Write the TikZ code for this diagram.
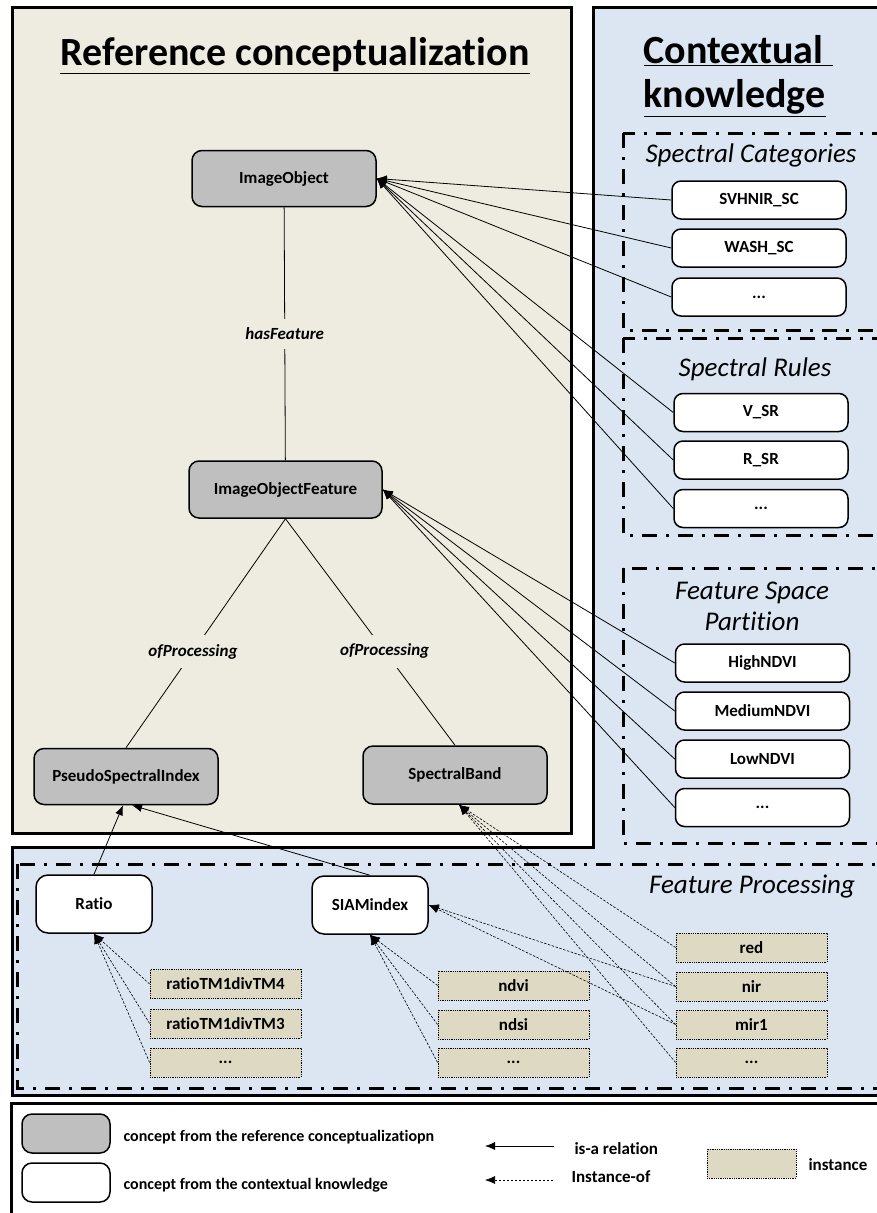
\documentclass[tikz,border=0pt]{standalone}
\usepackage{fontspec}
\setmainfont{Carlito}[Ligatures=NoCommon]
\usetikzlibrary{arrows.meta}

\definecolor{refbg}{HTML}{EEECE1}
\definecolor{ctxbg}{HTML}{DCE6F2}
\definecolor{refgray}{HTML}{BFBFBF}
\definecolor{insttan}{HTML}{DDD9C3}

\begin{document}
\begin{tikzpicture}[x=1pt, y=-1pt, >={Latex[length=10pt,width=8pt]},
  font=\fontsize{17}{20}\selectfont\bfseries,
  panel/.style={draw, line width=3pt},
  section/.style={draw, line width=3pt, dash pattern=on 15pt off 9pt on 3pt off 9pt},
  refc/.style={draw, line width=1.5pt, rounded corners=10pt, fill=refgray, minimum width=184pt, minimum height=56pt},
  ctxc/.style={draw, line width=1.5pt, rounded corners=9pt, fill=white, minimum width=174pt, minimum height=38pt},
  proc/.style={draw, line width=1.5pt, rounded corners=12pt, fill=white, minimum width=116pt, minimum height=58pt},
  inst/.style={draw, densely dotted, line width=0.8pt, fill=insttan, minimum width=151pt, minimum height=29pt},
  rel/.style={fill=refbg, inner xsep=2pt, inner ysep=9pt, font=\fontsize{17}{20}\selectfont\bfseries\itshape},
  bigtitle/.style={font=\fontsize{40}{44}\selectfont\bfseries, align=left},
  stitle/.style={font=\fontsize{27}{31}\selectfont\itshape, align=center},
  isa/.style={->, line width=0.8pt},
  instof/.style={->, line width=0.6pt, dash pattern=on 2.5pt off 1.5pt}]

\fill[white] (0,0) rectangle (877,1213);
\clip (0,0) rectangle (877,1213);

% =================================================================================
% panels
% =================================================================================
\draw[panel, fill=refbg] (12,7) rectangle (571,833);
\draw[panel, fill=ctxbg] (593,7) -- (895,7) -- (895,1095) -- (12,1095) -- (12,847) -- (593,847) -- cycle;
\draw[panel, fill=white] (11,1103) rectangle (895,1240);

\draw[section] (623,133) rectangle (900,330);
\draw[section] (623,338) rectangle (900,535);
\draw[section] (623,568) rectangle (900,843);
\draw[section] (17,864) rectangle (900,1088);

\node[bigtitle] (reftitle) at (295,56) {\underline{Reference conceptualization}};
\node[bigtitle, anchor=west] (ctxtitle) at (640,76) {\underline{Contextual\ }\\\underline{knowledge}};

\node[stitle] (sctitle) at (751,155) {Spectral Categories};
\node[stitle] (srtitle) at (755,369) {Spectral Rules};
\node[stitle] (fsptitle) at (752,606) {Feature Space\\Partition};
\node[stitle] (fptitle) at (752,887) {Feature Processing};

% =================================================================================
% reference conceptualization
% =================================================================================
\node[refc] (io)  at (284,178.5) {ImageObject};
\node[refc, minimum width=193pt, minimum height=57pt] (iof) at (285.5,489.5) {ImageObjectFeature};
\node[refc] (psi) at (126,776.5) {PseudoSpectralIndex};
\node[refc, minimum height=58pt] (sb) at (455,775) {SpectralBand};

\draw[line width=0.8pt] (io) -- node[rel]{hasFeature} (iof);
\draw[line width=0.8pt] (iof.south) -- node[rel, pos=0.58]{ofProcessing} (psi.north);
\draw[line width=0.8pt] (iof.south) -- node[rel, pos=0.585]{ofProcessing} (sb.north);

% =================================================================================
% contextual knowledge
% =================================================================================
\node[ctxc] (svhnir) at (759,200) {SVHNIR\_SC};
\node[ctxc] (wash)   at (759,248) {WASH\_SC};
\node[ctxc] (scmore) at (759,297) {...};

\node[ctxc] (vsr)    at (761,412.5) {V\_SR};
\node[ctxc] (rsr)    at (761,460) {R\_SR};
\node[ctxc] (srmore) at (761,508.5) {...};

\node[ctxc] (high)   at (762.5,663) {HighNDVI};
\node[ctxc] (medium) at (762.5,711) {MediumNDVI};
\node[ctxc] (low)    at (762.5,759) {LowNDVI};
\node[ctxc] (fsmore) at (762.5,807.5) {...};

\foreach \n in {svhnir, wash, scmore, vsr, rsr, srmore}
  \draw[isa] (\n.west) -- (io.east);
\foreach \n in {high, medium, low, fsmore}
  \draw[isa] (\n.west) -- (iof.east);

% =================================================================================
% feature processing
% =================================================================================
\node[proc] (ratio) at (94,904) {Ratio};
\node[proc] (siam)  at (370,905) {SIAMindex};

\node[inst] (r4)    at (225.5,984) {ratioTM1divTM4};
\node[inst] (r3)    at (225.5,1023.5) {ratioTM1divTM3};
\node[inst] (rmore) at (225.5,1062.5) {...};

\node[inst] (ndvi)  at (513.5,985.5) {ndvi};
\node[inst] (ndsi)  at (513.5,1024.5) {ndsi};
\node[inst] (nmore) at (513.5,1062.5) {...};

\node[inst] (red)   at (751.5,947.5) {red};
\node[inst] (nir)   at (751.5,986.5) {nir};
\node[inst] (mir)   at (751.5,1024.5) {mir1};
\node[inst] (bmore) at (751.5,1062.5) {...};

\draw[isa] (ratio.north) -- ([xshift=-3pt]psi.south);
\draw[isa] (siam.north) -- ([xshift=6pt]psi.south);

\foreach \n in {r4, r3, rmore}
  \draw[instof] (\n.west) -- (ratio.south);
\foreach \n in {ndvi, ndsi, nmore}
  \draw[instof] (\n.west) -- (siam.south);
\foreach \n in {nir, mir}
  \draw[instof] (\n.west) -- (siam.east);
\foreach \n in {red, nir, mir, bmore}
  \draw[instof] (\n.west) -- ([xshift=4pt]sb.south);

% =================================================================================
% legend
% =================================================================================
\node[refc, minimum width=88pt, minimum height=39pt] (lgref) at (66,1133.5) {};
\node[ctxc, minimum width=88pt, minimum height=39pt, rounded corners=10pt] (lgctx) at (66,1182.5) {};
\node[anchor=west, font=\fontsize{16}{19}\selectfont\bfseries] (lgreftxt) at (120,1137) {concept from the reference conceptualizatiopn};
\node[anchor=west, font=\fontsize{16}{19}\selectfont\bfseries] (lgctxtxt) at (120,1185) {concept from the contextual knowledge};

\coordinate (isaS) at (554,1146);
\coordinate (isaE) at (485,1146);
\draw[isa] (isaS) -- (isaE);
\node[anchor=west] (isatxt) at (571,1149) {is-a relation};

\coordinate (instS) at (553,1180);
\coordinate (instE) at (485,1180);
\draw[instof] (instS) -- (instE);
\node[anchor=west] (insttxt) at (568,1177) {Instance-of};

\node[inst, minimum width=89pt] (lginst) at (751.5,1163.5) {};
\node[anchor=west] (lginsttxt) at (805,1165) {instance};

\end{tikzpicture}
\end{document}
